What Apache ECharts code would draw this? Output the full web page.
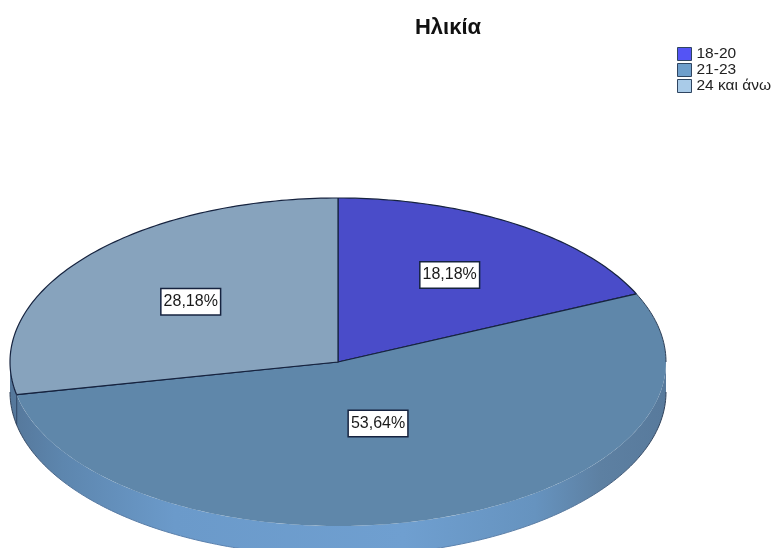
<!DOCTYPE html>
<html>
<head>
<meta charset="utf-8">
<style>html,body{margin:0;padding:0;background:#fff}#c{width:775px;height:548px}</style>
<script src="https://cdn.jsdelivr.net/npm/echarts@6/dist/echarts.min.js"></script>
</head>
<body>
<div id="c"></div>
<script>
const categories = ['18-20', '21-23', '24 και άνω'];
const percentValues = [18.18, 53.64, 28.18];
const chartTitle = 'Ηλικία';

const topColors = ['#4a4cc9', '#5f87aa', '#87a3bd'];
const legendColors = ['#5454f5', '#6f9fcb', '#a9cbe8'];
const labelRadius = [0.63, 0.395, 0.58];
const cx = 338, cy = 362, rx = 328, ry = 164, depth = 30;
const edge = '#16233f';

const total = percentValues.reduce((a, b) => a + b, 0);
const px = (deg, dy = 0) => {
  const t = deg * Math.PI / 180;
  return [cx + rx * Math.sin(t), cy - ry * Math.cos(t) + dy];
};
const arc = (a, b, dy = 0) => {
  const pts = [], n = Math.max(2, Math.ceil(Math.abs(b - a)));
  for (let i = 0; i <= n; i++) pts.push(px(a + (b - a) * i / n, dy));
  return pts;
};
const hGrad = stops => ({
  type: 'linear', x: 10, y: 0, x2: 666, y2: 0, global: true,
  colorStops: stops.map(([offset, color]) => ({ offset, color }))
});
const sideFill = hGrad([
  [0, '#55779a'], [0.08, '#5d86ae'], [0.25, '#6b9aca'], [0.6, '#6f9fd0'],
  [0.8, '#6693bf'], [0.9, '#5d80a2'], [1, '#587a9c']
]);
const rimLine = hGrad([
  [0, '#2f4058'], [0.1, '#55779f'], [0.5, '#5f8abb'], [0.85, '#5a7ba0'], [1, '#2f4058']
]);

function sliceRenderer(i) {
  const before = percentValues.slice(0, i).reduce((a, b) => a + b, 0);
  return function (params, api) {
    const a0 = before / total * 360;
    const a1 = a0 + api.value(0) / total * 360;
    const children = [];
    // rim of the disc: only the part of the slice on the near half
    const s0 = Math.max(a0, 90), s1 = Math.min(a1, 270);
    if (s1 > s0) {
      const rim = arc(s0, s1).concat(arc(s1, s0, depth));
      children.push({ type: 'polygon', shape: { points: rim }, style: { fill: sideFill, stroke: null } });
      children.push({ type: 'polyline', shape: { points: arc(s0, s1, depth) }, style: { fill: null, stroke: rimLine, lineWidth: 1 } });
    }
    // top face
    const outer = arc(a0, a1);
    children.push({ type: 'polygon', shape: { points: [[cx, cy]].concat(outer) }, style: { fill: topColors[i], stroke: null } });
    // outline: near half of the top edge has no line
    const far = outer.filter(p => p[1] <= cy + 0.01 || a0 > 200 || i === 0);
    children.push({ type: 'polyline', shape: { points: [px(a0), [cx, cy], px(a1)] }, style: { fill: null, stroke: edge, lineWidth: 1.2 } });
    if (i !== 1) children.push({ type: 'polyline', shape: { points: far }, style: { fill: null, stroke: edge, lineWidth: 1.2 } });
    else children.push({ type: 'polyline', shape: { points: arc(a0, 90) }, style: { fill: null, stroke: '#2f4058', lineWidth: 1 } });
    // vertical edge where the rim meets a radial line on the left
    if (a1 > 90 && a1 < 270) {
      children.push({ type: 'polyline', shape: { points: [px(a1), px(a1, depth)] }, style: { fill: null, stroke: edge, lineWidth: 1.2 } });
    }
    // label
    const mid = (a0 + a1) / 2 * Math.PI / 180, f = labelRadius[i];
    children.push({
      type: 'text', z2: 10,
      style: {
        x: cx + rx * f * Math.sin(mid), y: cy - ry * f * Math.cos(mid),
        text: api.value(0).toFixed(2).replace('.', ',') + '%',
        align: 'center', verticalAlign: 'middle',
        font: '16px "Liberation Sans", Arial, sans-serif', fill: '#1a1a1a',
        backgroundColor: '#fff', borderColor: edge, borderWidth: 1.5, padding: [5, 2, 4, 2]
      }
    });
    return { type: 'group', children };
  };
}

const chart = echarts.init(document.getElementById('c'), null, { renderer: 'canvas' });
chart.setOption({
  animation: false,
  backgroundColor: '#fff',
  title: {
    text: chartTitle, left: 443, top: 12, textAlign: 'center',
    textStyle: { fontFamily: '"Liberation Sans", Arial, sans-serif', fontSize: 22, fontWeight: 'bold', color: '#111' }
  },
  legend: {
    orient: 'vertical', left: 677, top: 46, itemWidth: 14, itemHeight: 13, itemGap: 0, padding: 0,
    selectedMode: false,
    textStyle: { fontFamily: '"Liberation Sans", Arial, sans-serif', fontSize: 15.5, lineHeight: 14, color: '#222', padding: 0 },
    data: categories.map((name, i) => ({
      name, icon: 'rect',
      itemStyle: { color: legendColors[i], borderColor: '#2f4560', borderWidth: 1 }
    }))
  },
  series: categories.map((name, i) => ({
    type: 'custom', name, coordinateSystem: 'none', silent: true, clip: false,
    z: 2 + i,
    itemStyle: { color: legendColors[i] },
    data: [[percentValues[i]]],
    renderItem: sliceRenderer(i)
  }))
});
</script>
</body>
</html>
